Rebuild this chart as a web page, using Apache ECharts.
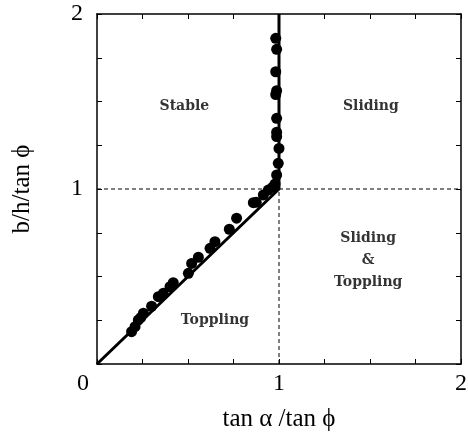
<!DOCTYPE html>
<html>
<head>
<meta charset="utf-8">
<script src="https://cdn.jsdelivr.net/npm/echarts@6/dist/echarts.min.js"></script>
<style>
html,body{margin:0;padding:0;background:#fff;}
#c{width:468px;height:434px;}
</style>
</head>
<body>
<div id="c"></div>
<script>
// Measured points (tanα/tanϕ, b/h/tanϕ)
var pointsX = [0.190,0.209,0.227,0.240,0.255,0.300,0.337,0.364,0.401,0.419,0.502,0.520,0.557,0.621,0.648,0.727,0.767,0.859,0.875,0.914,0.941,0.965,0.978,0.987,0.996,1.000,0.987,0.987,0.987,0.982,0.987,0.982,0.987,0.982];
var pointsY = [0.185,0.213,0.251,0.265,0.290,0.330,0.385,0.404,0.442,0.465,0.518,0.575,0.610,0.661,0.699,0.770,0.833,0.922,0.925,0.966,0.994,1.010,1.029,1.080,1.147,1.232,1.300,1.325,1.404,1.540,1.562,1.670,1.798,1.861];
// Theoretical boundary
var boundaryX = [0, 1, 1];
var boundaryY = [0, 1, 2];
// Reference dashed lines
var hDashX = [0, 2], hDashY = [1, 1];
var vDashX = [1, 1], vDashY = [0, 1];
// Region labels
var regionNames = ['Stable', 'Sliding', 'Sliding\n&\nToppling', 'Toppling'];
var regionX = [0.48, 1.505, 1.49, 0.648];
var regionY = [1.47, 1.47, 0.59, 0.25];
// Tick labels
var tickLabels = ['0', '1', '2'];

function zip(a, b) { return a.map(function (v, i) { return [v, b[i]]; }); }

var serif = '"Liberation Serif", "DejaVu Serif", serif';
var chart = echarts.init(document.getElementById('c'));
var axisCommon = {
  type: 'value', min: 0, max: 2, interval: 0.25,
  axisLine: { show: true, onZero: false, lineStyle: { color: '#000', width: 1.5 } },
  axisTick: { show: true, inside: true, length: 5, lineStyle: { color: '#000', width: 1 } },
  splitLine: { show: false }
};
chart.setOption({
  animation: false,
  backgroundColor: '#fff',
  grid: { left: 97, right: 7, top: 14, bottom: 70, containLabel: false, outerBoundsMode: 'none' },
  xAxis: [
    Object.assign({}, axisCommon, {
      position: 'bottom',
      name: 'tan α /tan ϕ', nameLocation: 'middle', nameGap: 43,
      nameTextStyle: { fontFamily: serif, fontSize: 25, color: '#000' },
      axisLabel: {
        margin: 8, color: '#000', fontFamily: serif, fontSize: 24,
        formatter: function (v) {
          var i = tickLabels.indexOf(String(v));
          if (i < 0) return '';
          return v === 0 ? '{z|0}' : tickLabels[i];
        },
        rich: { z: { fontFamily: serif, fontSize: 24, color: '#000', padding: [0, 28, 0, 0] } }
      }
    }),
    Object.assign({}, axisCommon, { position: 'top', axisLabel: { show: false } })
  ],
  yAxis: [
    Object.assign({}, axisCommon, {
      position: 'left',
      name: 'b/h/tan ϕ', nameLocation: 'middle', nameGap: 62,
      nameTextStyle: { fontFamily: serif, fontSize: 25, color: '#000' },
      axisLabel: {
        margin: 14, color: '#000', fontFamily: serif, fontSize: 24,
        formatter: function (v) {
          if (v === 0) return '';
          var i = tickLabels.indexOf(String(v));
          return i < 0 ? '' : tickLabels[i];
        }
      }
    }),
    Object.assign({}, axisCommon, { position: 'right', axisLabel: { show: false } })
  ],
  series: [
    {
      type: 'line', data: zip(hDashX, hDashY), symbol: 'none',
      lineStyle: { color: '#000', width: 1, type: [4, 3] }
    },
    {
      type: 'line', data: zip(vDashX, vDashY), symbol: 'none',
      lineStyle: { color: '#000', width: 1, type: [4, 3] }
    },
    {
      type: 'line', data: zip(boundaryX, boundaryY), symbol: 'none',
      lineStyle: { color: '#000', width: 3 }
    },
    {
      type: 'scatter', data: zip(pointsX, pointsY), symbol: 'circle', symbolSize: 11,
      itemStyle: { color: '#000', opacity: 1 }
    },
    {
      type: 'scatter', symbolSize: 0,
      data: regionNames.map(function (n, i) { return { value: [regionX[i], regionY[i]], name: n }; }),
      label: {
        show: true, position: 'inside', formatter: '{b}', color: '#000',
        fontFamily: '"DejaVu Serif", serif', fontWeight: 'bold', fontSize: 14, lineHeight: 22,
        align: 'center', verticalAlign: 'middle'
      }
    }
  ]
});
</script>
</body>
</html>
